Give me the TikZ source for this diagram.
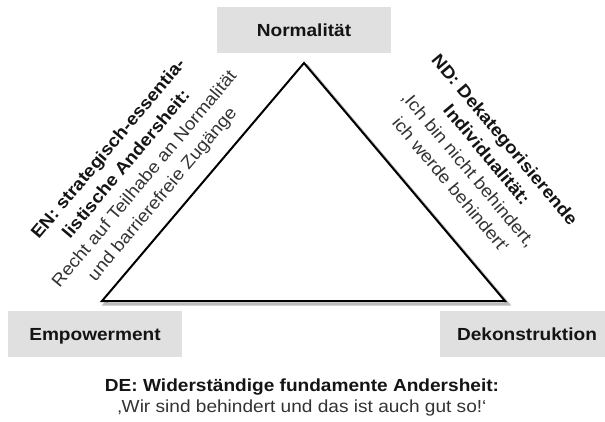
\documentclass[tikz,border=0pt]{standalone}
\usepackage{fontspec}
\setmainfont{Liberation Sans}[FakeStretch=1.09]
\definecolor{boxgray}{HTML}{E0E0E0}
\definecolor{shadowgray}{HTML}{BBBBBB}
\definecolor{ink}{HTML}{141414}
\definecolor{softink}{HTML}{333333}
\tikzset{
  pole/.style={fill=boxgray, minimum width=174pt, minimum height=46pt,
    inner sep=0pt, text height=12.6pt, text depth=0pt, text=ink,
    font=\fontsize{17.5}{22}\selectfont\bfseries},
  sidetext/.style={align=center, inner sep=0pt, text=softink,
    font=\fontsize{17.5}{23.5}\selectfont},
  edge/.style={line width=2pt, line join=miter, draw=black},
  edgeshadow/.style={line width=3pt, line join=miter, draw=shadowgray}
}
\begin{document}
\begin{tikzpicture}[x=1pt,y=-1pt]
\useasboundingbox (0,0) rectangle (605,422);

% the three poles
\node[pole] (norm) at (304,30) {Normalität};
\node[pole] (emp) at (95,334) {Empowerment};
\node[pole] (dek) at (527,334) {Dekonstruktion};

% triangle with a drop shadow
\coordinate (top) at (304,63);
\coordinate (bl) at (102,301);
\coordinate (br) at (505,301);
\draw[edgeshadow] ([shift={(3,3)}]top) -- ([shift={(3,3)}]bl) -- ([shift={(3,3)}]br) -- cycle;
\draw[edge, fill=white] (top) -- (bl) -- (br) -- cycle;

% side labels along the edges
\node[sidetext, rotate=50] (en) at (136,172)
  {\textbf{\color{ink}EN: strategisch-essentia-}\\
   \textbf{\color{ink}listische Andersheit:}\\
   Recht auf Teilhabe an Normalität\\
   und barrierefreie Zugänge};
\node[sidetext, rotate=-50] (nd) at (478,162)
  {\textbf{\color{ink}ND: Dekategorisierende}\\
   \textbf{\color{ink}Individualität:}\\
   ‚Ich bin nicht behindert,\\
   ich werde behindert‘};

% bottom caption
\node[sidetext, font=\fontsize{17.5}{21}\selectfont] (de) at (302,397)
  {\textbf{\color{ink}DE: Widerständige fundamente Andersheit:}\\
   ‚Wir sind behindert und das ist auch gut so!‘};
\end{tikzpicture}
\end{document}
